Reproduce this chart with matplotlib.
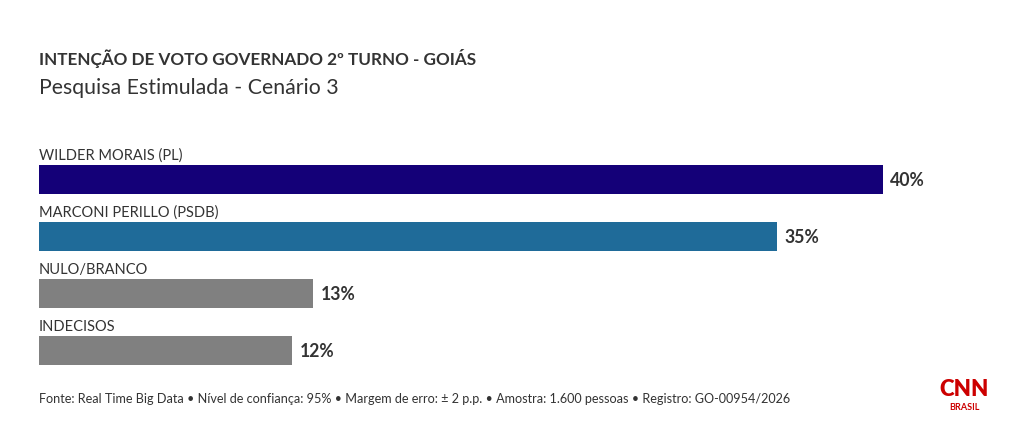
import matplotlib.pyplot as plt

# data
candidatos = ["WILDER MORAIS (PL)", "MARCONI PERILLO (PSDB)", "NULO/BRANCO", "INDECISOS"]
valores = [40, 35, 13, 12]
cores = ["#140078", "#1f6b99", "#808080", "#808080"]

titulo = "INTENÇÃO DE VOTO GOVERNADO 2º TURNO - GOIÁS"
subtitulo = "Pesquisa Estimulada - Cenário 3"
fonte = ("Fonte: Real Time Big Data • Nível de confiança: 95% • Margem de erro: ± 2 p.p. "
         "• Amostra: 1.600 pessoas • Registro: GO-00954/2026")

plt.rcParams['font.family'] = ['Lato', 'DejaVu Sans']
W, H = 1020, 426
txt = "#333333"

fig = plt.figure(figsize=(W / 100, H / 100), dpi=100)
fig.patch.set_facecolor("white")

# axes: x 0..40 spans 39px..883px, rows centred at 179.5 + 57*i px
ax = fig.add_axes([39 / W, 1 - 379 / H, (883 - 39) / W, 256.5 / H])
ypos = list(range(len(candidatos)))
ax.barh(ypos, valores, height=0.51, color=cores)
ax.set_xlim(0, 40)
ax.set_ylim(3.5, -1)
ax.axis("off")

for i, (nome, v) in enumerate(zip(candidatos, valores)):
    ax.text(0, i - 0.42, nome, ha="left", va="center", fontsize=10.5,
            color=txt, clip_on=False)
    ax.text(v + 0.35, i + 0.02, f"{v}%", ha="left", va="center", fontsize=12.7,
            fontweight="bold", color=txt, clip_on=False)

fig.text(39 / W, 1 - 58 / H, titulo, ha="left", va="center", fontsize=12.3,
         fontweight="bold", color=txt)
fig.text(39 / W, 1 - 88 / H, subtitulo, ha="left", va="center", fontsize=15.3,
         color=txt)
fig.text(39 / W, 1 - 399 / H, fonte, ha="left", va="center", fontsize=9.05,
         color=txt)

# logo
fig.text(964 / W, 1 - 390 / H, "CNN", ha="center", va="center", fontsize=16,
         fontweight="heavy", color="#cc0000")
fig.text(964 / W, 1 - 408 / H, "BRASIL", ha="center", va="center", fontsize=6.5,
         fontweight="bold", color="#cc0000")

fig.savefig("out.png", dpi=100)
